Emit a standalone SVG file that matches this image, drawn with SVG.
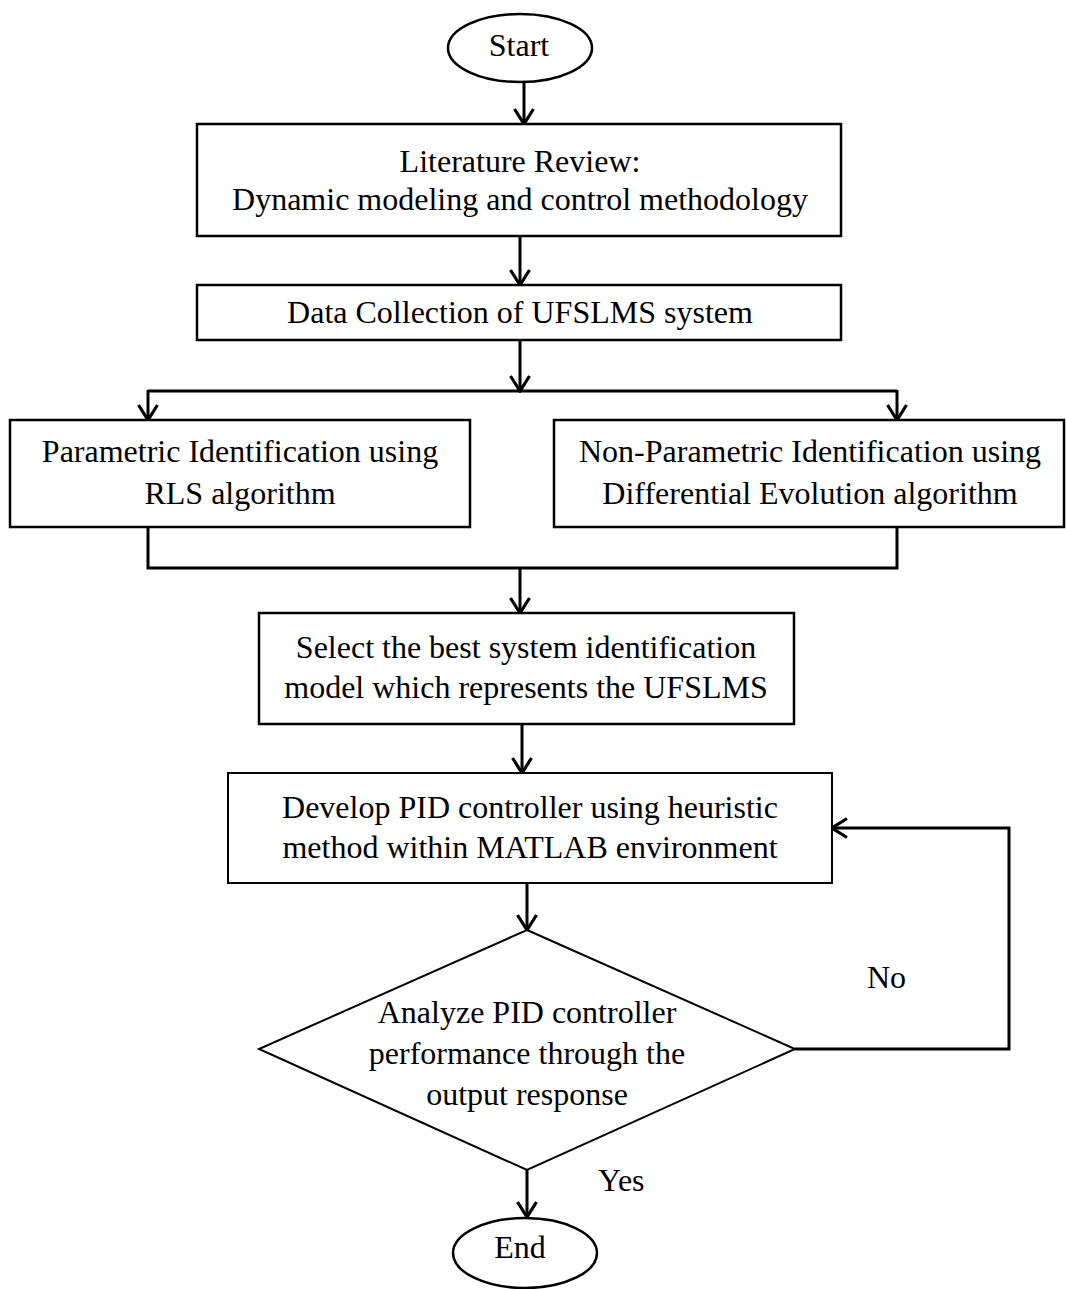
<svg xmlns="http://www.w3.org/2000/svg" width="1066" height="1289" viewBox="0 0 1066 1289">
<defs>
<style>
.box{fill:#fff;stroke:#000;stroke-width:2.5}
.t{font-family:"Liberation Serif","Times New Roman",serif;font-size:32px;fill:#000;text-anchor:middle}
.lbl{font-family:"Liberation Serif","Times New Roman",serif;font-size:32px;fill:#000}
.c{fill:none;stroke:#000;stroke-width:3}
</style>
<marker id="arr" markerUnits="userSpaceOnUse" viewBox="-18 -11 20 22" refX="0" refY="0" markerWidth="20" markerHeight="22" orient="auto">
<path d="M-15,-9.5 L0,0 L-15,9.5" fill="none" stroke="#000" stroke-width="3.2"/>
</marker>
</defs>
<rect width="1066" height="1289" fill="#fff"/>
<g id="connectors">
<line class="c" x1="524" y1="82" x2="524" y2="124" marker-end="url(#arr)"/>
<line class="c" x1="520" y1="236" x2="520" y2="285" marker-end="url(#arr)"/>
<line class="c" x1="520" y1="340" x2="520" y2="391" marker-end="url(#arr)"/>
<polyline class="c" points="148,391 897,391"/>
<line class="c" x1="148" y1="390" x2="148" y2="420" marker-end="url(#arr)"/>
<line class="c" x1="897" y1="390" x2="897" y2="420" marker-end="url(#arr)"/>
<polyline class="c" points="148,527 148,568 897,568 897,527"/>
<line class="c" x1="520" y1="568" x2="520" y2="613" marker-end="url(#arr)"/>
<line class="c" x1="522" y1="724" x2="522" y2="773" marker-end="url(#arr)"/>
<line class="c" x1="527" y1="883" x2="527" y2="930" marker-end="url(#arr)"/>
<polyline class="c" points="795,1049 1009,1049 1009,828 832,828" marker-end="url(#arr)"/>
<line class="c" x1="527" y1="1170" x2="527" y2="1217" marker-end="url(#arr)"/>
</g>
<g id="start">
<ellipse class="box" cx="520" cy="48" rx="72" ry="34"/>
<text class="t" x="519" y="56">Start</text>
</g>
<g id="literature">
<rect class="box" x="197" y="124" width="644" height="112"/>
<text class="t" x="520" y="172">Literature Review:</text>
<text class="t" x="520" y="210">Dynamic modeling and control methodology</text>
</g>
<g id="data">
<rect class="box" x="197" y="285" width="644" height="55"/>
<text class="t" x="520" y="323">Data Collection of UFSLMS system</text>
</g>
<g id="parametric">
<rect class="box" x="10" y="420" width="460" height="107"/>
<text class="t" x="240" y="462">Parametric Identification using</text>
<text class="t" x="240" y="504">RLS algorithm</text>
</g>
<g id="nonparametric">
<rect class="box" x="554" y="420" width="510" height="107"/>
<text class="t" x="810" y="462">Non-Parametric Identification using</text>
<text class="t" x="810" y="504">Differential Evolution algorithm</text>
</g>
<g id="select">
<rect class="box" x="259" y="613" width="535" height="111"/>
<text class="t" x="526" y="658">Select the best system identification</text>
<text class="t" x="526" y="698">model which represents the UFSLMS</text>
</g>
<g id="develop">
<rect class="box" x="228" y="773" width="604" height="110" style="stroke-width:2"/>
<text class="t" x="530" y="818">Develop PID controller using heuristic</text>
<text class="t" x="530" y="858">method within MATLAB environment</text>
</g>
<g id="analyze">
<polygon class="box" points="527,930 795,1049 527,1170 259,1049" style="stroke-width:2"/>
<text class="t" x="527" y="1023">Analyze PID controller</text>
<text class="t" x="527" y="1064">performance through the</text>
<text class="t" x="527" y="1105">output response</text>
</g>
<g id="labels">
<text class="lbl" x="867" y="988">No</text>
<text class="lbl" x="598" y="1191">Yes</text>
</g>
<g id="end">
<ellipse class="box" cx="525" cy="1253" rx="72" ry="35"/>
<text class="t" x="520" y="1258">End</text>
</g>
</svg>
